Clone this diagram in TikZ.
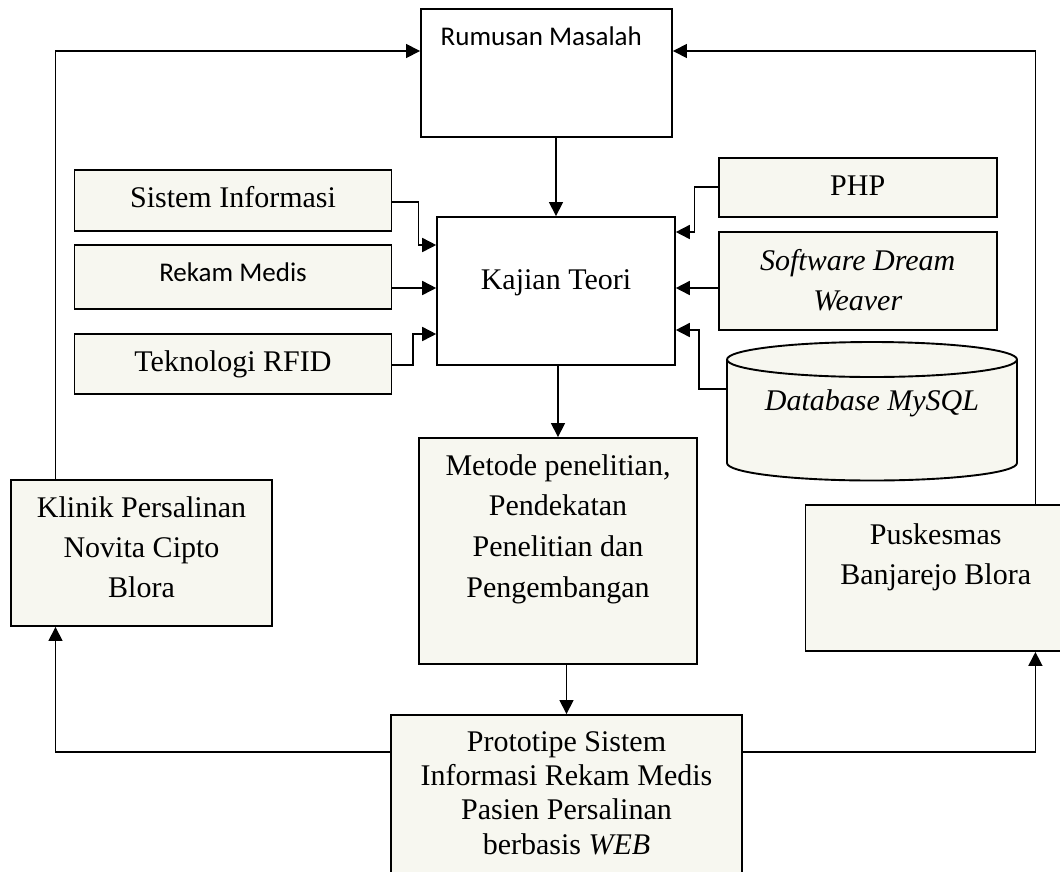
\documentclass[tikz,border=0pt]{standalone}
\usepackage{fontspec}
\setmainfont{Liberation Serif}
\newfontfamily\calibri{Carlito}
\usetikzlibrary{arrows.meta}
\definecolor{cream}{RGB}{247,247,240}
\begin{document}
\begin{tikzpicture}[x=1pt,y=-1pt,
  wbox/.style={draw=black, line width=1.9pt, fill=white, inner sep=0pt},
  cbox/.style={draw=black, line width=1.9pt, fill=cream, inner sep=0pt},
  txt/.style={inner sep=0pt, align=center, font=\fontsize{30}{40}\selectfont},
  stxt/.style={inner sep=0pt, font=\calibri\fontsize{27}{32}\selectfont},
  arr/.style={line width=1.6pt, -{Triangle[length=14pt,width=14pt]}}]
\useasboundingbox (0,0) rectangle (1060,871);
\clip (0,0) rectangle (1060,871);
\fill[white] (0,0) rectangle (1060,871);

% boxes
\node[wbox, minimum width=251pt, minimum height=128pt] (rum) at (546.5,73) {};
\node[wbox, minimum width=237.7pt, minimum height=148pt] (kaj) at (556,291) {};
\node[cbox, minimum width=317pt, minimum height=61pt] (sis) at (233,200.5) {};
\node[cbox, minimum width=317pt, minimum height=64pt] (rek) at (233,277) {};
\node[cbox, minimum width=317pt, minimum height=60pt] (rfid) at (233,364) {};
\node[cbox, minimum width=261pt, minimum height=146pt] (kli) at (141.5,553) {};
\node[cbox, minimum width=278.3pt, minimum height=226pt] (met) at (558,551) {};
\node[cbox, minimum width=278.3pt, minimum height=59pt] (php) at (857.7,187.5) {};
\node[cbox, minimum width=278.3pt, minimum height=98pt] (sw) at (857.7,281) {};
\node[cbox, minimum width=260.5pt, minimum height=146pt] (pus) at (935.7,578) {};
\node[cbox, minimum width=351pt, minimum height=200pt] (pro) at (566.5,815) {};

% database cylinder
\path[fill=cream, draw=black, line width=1.9pt] (727,359.5) -- (727,463)
  arc[start angle=180, end angle=360, x radius=145pt, y radius=17.5pt]
  -- (1017,359.5)
  arc[start angle=0, end angle=180, x radius=145pt, y radius=17.5pt] -- cycle;
\draw[line width=1.9pt] (727,359.5) arc[start angle=180, end angle=360, x radius=145pt, y radius=17.5pt];
\node[inner sep=0pt, minimum width=290pt, minimum height=138pt] (db) at (872,411) {};

% texts
\node[stxt, anchor=base west] (rumT) at (440.5,45) {Rumusan Masalah};
\node[txt, anchor=base] (kajT) at (556,289.3) {Kajian Teori};
\node[txt, anchor=base] (sisT) at (233,207.3) {Sistem Informasi};
\node[stxt, anchor=base] (rekT) at (233,281) {Rekam Medis};
\node[txt, anchor=base] (rfidT) at (233,371.7) {Teknologi RFID};
\node[txt, anchor=north] (kliT) at (141.5,496.5) {Klinik Persalinan\\Novita Cipto\\Blora};
\node[txt, anchor=north, font=\fontsize{30}{40.7}\selectfont] (metT) at (558,454) {Metode penelitian,\\Pendekatan\\Penelitian dan\\Pengembangan};
\node[txt, anchor=base] (phpT) at (857.7,195) {PHP};
\node[txt, anchor=north, font=\itshape\fontsize{30}{40}\selectfont] (swT) at (857.7,249) {Software Dream\\Weaver};
\node[txt, anchor=base, font=\itshape\fontsize{30}{40}\selectfont] (dbT) at (872,410) {Database MySQL};
\node[txt, anchor=north] (pusT) at (935.7,523) {Puskesmas\\Banjarejo Blora};
\node[txt, anchor=north, font=\fontsize{30}{34.4}\selectfont] (proT) at (566.5,731) {Prototipe Sistem\\Informasi Rekam Medis\\Pasien Persalinan\\berbasis \textit{WEB}};

% bend coordinates
\coordinate (lx) at (55.5,51);
\coordinate (rx) at (1035.4,51);
\coordinate (bl) at (55.5,752);
\coordinate (br) at (1035.4,752);
\coordinate (s1) at (418.5,202);
\coordinate (s2) at (418.5,245);
\coordinate (r1) at (400,288);
\coordinate (t1) at (413,365);
\coordinate (t2) at (413,334);
\coordinate (p1) at (694.3,187);
\coordinate (p2) at (694.3,232);
\coordinate (w1) at (700,288);
\coordinate (d1) at (699,389);
\coordinate (d2) at (699,330);

% connectors
\draw[arr] (kaj.north |- rum.south) -- (kaj.north);
\draw[arr] (met.north |- kaj.south) -- (met.north);
\draw[arr] (pro.north |- met.south) -- (pro.north);
\draw[arr] (kli.north -| lx) -- (lx) -- (lx -| rum.west);
\draw[arr] (pus.north -| rx) -- (rx) -- (rx -| rum.east);
\draw[arr] (bl -| pro.west) -- (bl) -- (bl |- kli.south);
\draw[arr] (br -| pro.east) -- (br) -- (br |- pus.south);
\draw[arr] (s1 -| sis.east) -- (s1) -- (s2) -- (s2 -| kaj.west);
\draw[arr] (r1 -| rek.east) -- (r1 -| kaj.west);
\draw[arr] (t1 -| rfid.east) -- (t1) -- (t2) -- (t2 -| kaj.west);
\draw[arr] (p1 -| php.west) -- (p1) -- (p2) -- (p2 -| kaj.east);
\draw[arr] (w1 -| sw.west) -- (w1 -| kaj.east);
\draw[arr] (d1 -| db.west) -- (d1) -- (d2) -- (d2 -| kaj.east);
\end{tikzpicture}
\end{document}
